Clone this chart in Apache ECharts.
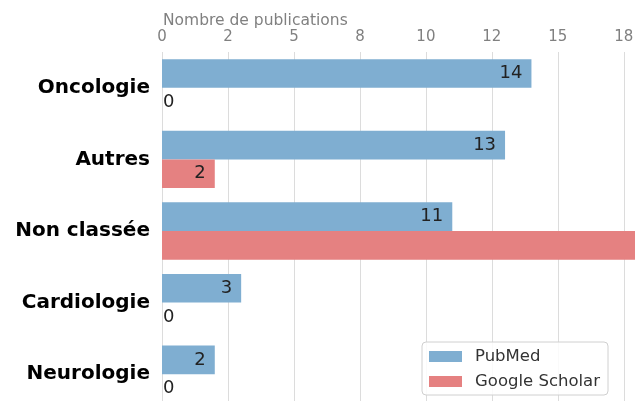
<!DOCTYPE html>
<html>
<head>
<meta charset="utf-8">
<script src="https://cdn.jsdelivr.net/npm/echarts@6/dist/echarts.min.js"></script>
<style>html,body{margin:0;padding:0;background:#fff}#c{width:635px;height:401px}</style>
</head>
<body>
<div id="c"></div>
<script>
const categories = ['Oncologie', 'Autres', 'Non classée', 'Cardiologie', 'Neurologie'];
const pubmed = [14, 13, 11, 3, 2];
const scholar = [0, 2, 24, 0, 0];
const tickLabels = ['0', '2', '5', '8', '10', '12', '15', '18'];
const axisTitle = 'Nombre de publications';
const seriesNames = ['PubMed', 'Google Scholar'];

const FONT = 'DejaVu Sans';
const AXIS_MAX = 18;

function barData(vals) {
  return vals.map(v => {
    if (v === 0) {
      return { value: v, label: { position: 'insideLeft', distance: 1 } };
    }
    if (v > AXIS_MAX) {
      return { value: v, label: { show: false } };
    }
    return v;
  });
}

const labelStyle = {
  show: true, position: 'insideRight', distance: 9,
  color: '#222', fontSize: 18, fontFamily: FONT
};

const chart = echarts.init(document.getElementById('c'), null, { renderer: 'canvas' });
chart.setOption({
  animation: false,
  backgroundColor: '#fff',
  title: {
    text: axisTitle, left: 158, top: 8,
    textStyle: { fontFamily: FONT, fontSize: 15.5, fontWeight: 'normal', color: '#808080' }
  },
  grid: { left: 162, right: -2, top: 52, bottom: -9, containLabel: false, outerBoundsMode: 'none' },
  xAxis: {
    type: 'value', position: 'top', min: 0, max: AXIS_MAX, interval: 2.5,
    axisLine: { show: false }, axisTick: { show: false },
    splitLine: { show: true, lineStyle: { color: '#dcdcdc', width: 1 } },
    axisLabel: {
      margin: 7, color: '#808080', fontFamily: FONT, fontSize: 15,
      formatter: v => {
        const i = Math.round(v / 2.5);
        return Math.abs(i * 2.5 - v) < 1e-9 && i < tickLabels.length ? tickLabels[i] : '';
      }
    }
  },
  yAxis: {
    type: 'category', data: categories, inverse: true,
    axisLine: { show: false }, axisTick: { show: false }, splitLine: { show: false },
    axisLabel: { margin: 12, color: '#000', fontFamily: FONT, fontSize: 20, fontWeight: 'bold' }
  },
  legend: {
    orient: 'vertical', left: 422, top: 342,
    data: seriesNames,
    icon: 'rect', itemWidth: 33, itemHeight: 11, itemGap: 8,
    padding: [6, 8, 5, 7],
    backgroundColor: 'rgba(255,255,255,0.85)',
    borderColor: '#d0d0d0', borderWidth: 1, borderRadius: 4,
    textStyle: { fontFamily: FONT, fontSize: 16.5, color: '#333', padding: [0, 0, 0, 8] }
  },
  series: [
    {
      name: seriesNames[0], type: 'bar', data: barData(pubmed),
      barGap: '0%', barCategoryGap: '20%',
      itemStyle: { color: '#7faed1' },
      label: labelStyle
    },
    {
      name: seriesNames[1], type: 'bar', data: barData(scholar),
      barGap: '0%', barCategoryGap: '20%',
      itemStyle: { color: '#e58181' },
      label: labelStyle
    }
  ]
});
</script>
</body>
</html>
